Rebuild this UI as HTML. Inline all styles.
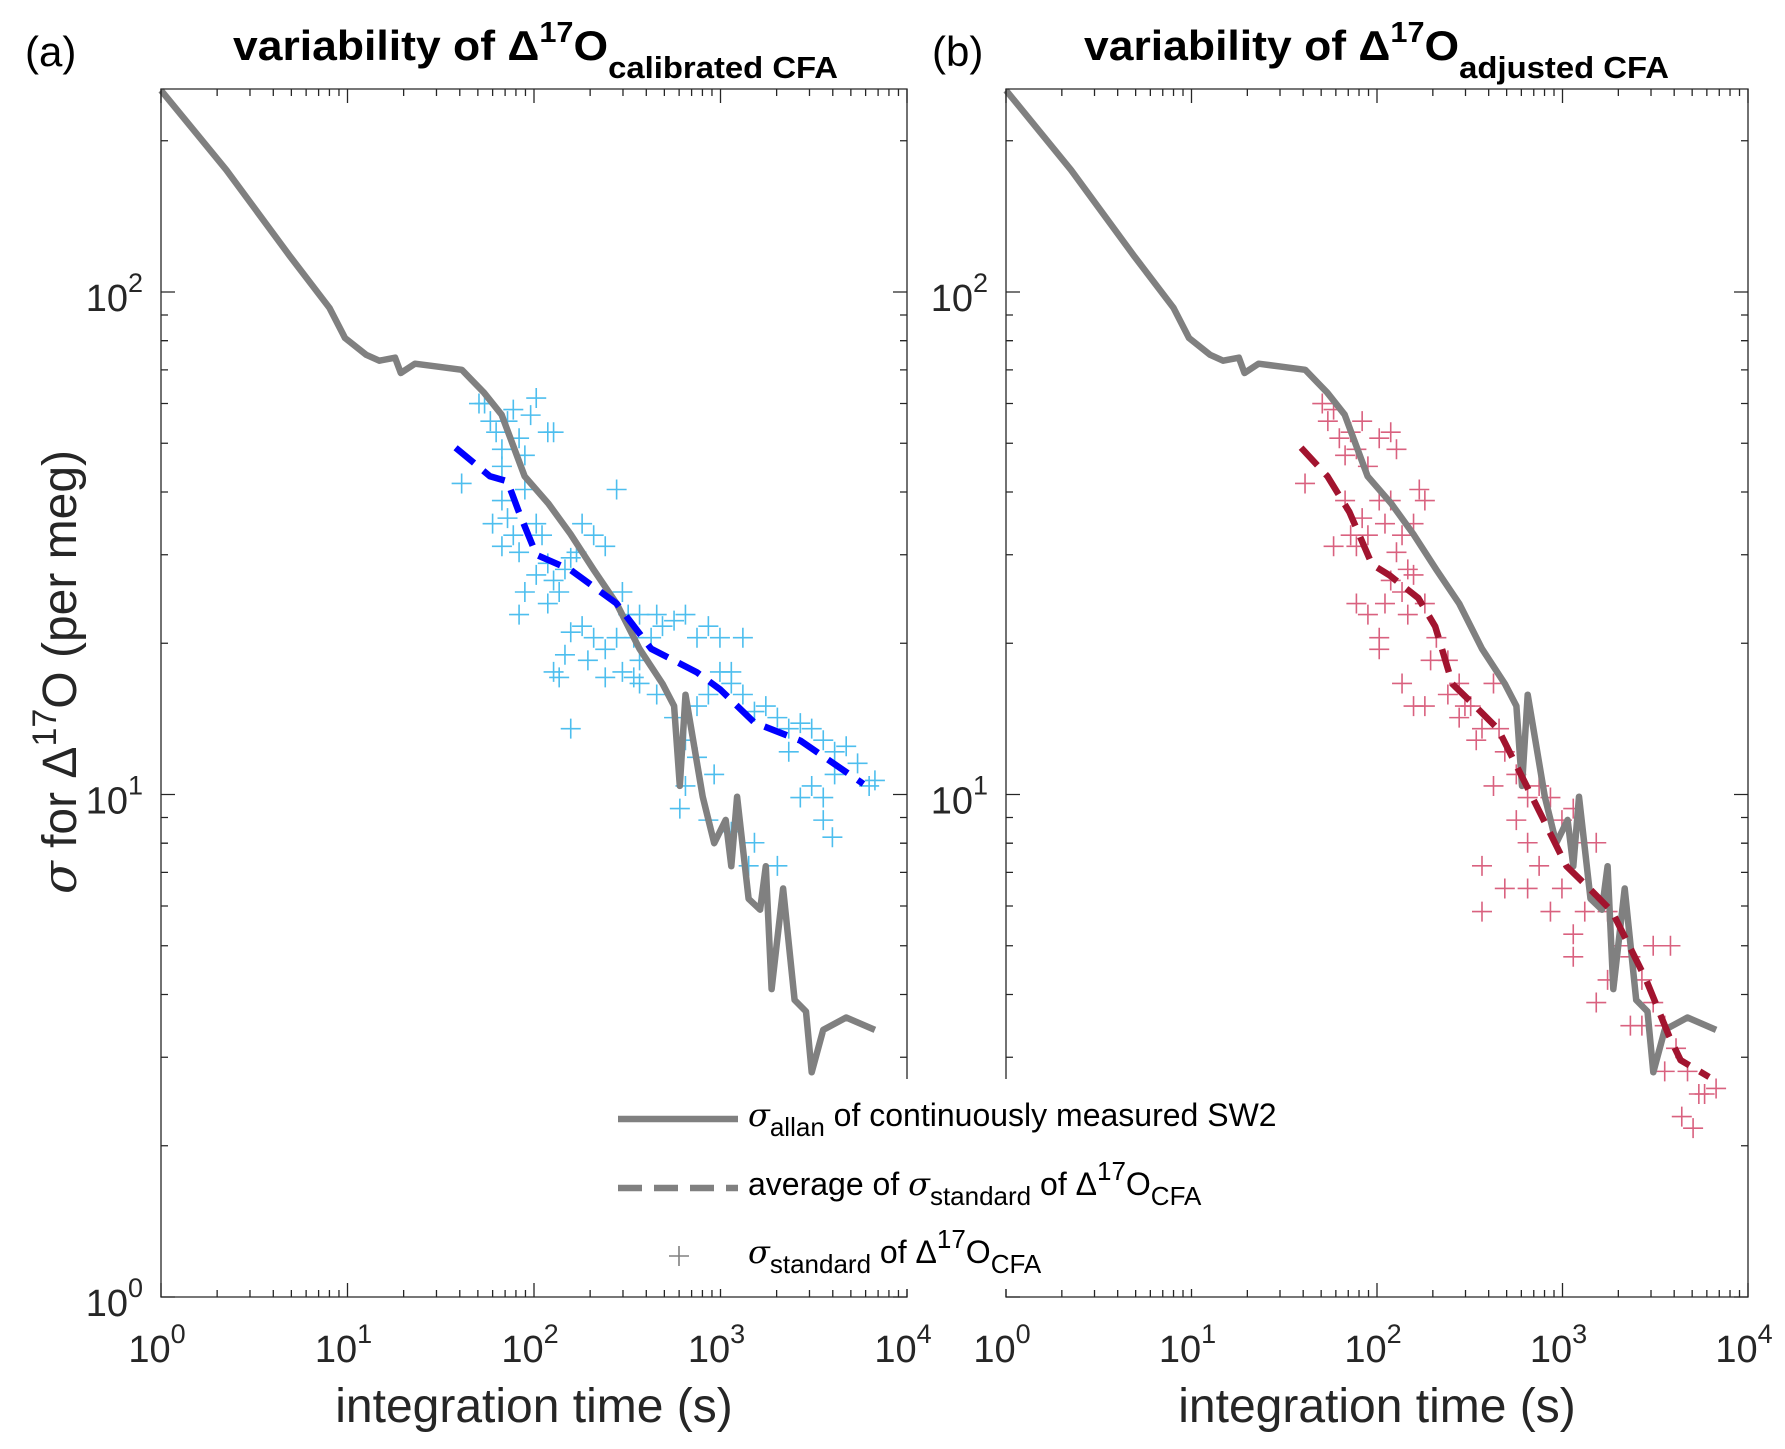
<!DOCTYPE html>
<html><head><meta charset="utf-8"><style>
body{margin:0;background:#fff}
svg{display:block;font-family:"Liberation Sans",sans-serif}
</style></head><body>
<svg id="fig" width="1785" height="1449" viewBox="0 0 1785 1449" xmlns="http://www.w3.org/2000/svg"></svg>
<script>
// ---- data ----
const allanTime=[1,2.24,4.9,8.0,9.7,12.6,14.8,18,19.3,23,31,41,54,67,89,119,157,209,277,368,489,564,605,649,803,925,1066,1143,1228,1415,1630,1750,1879,2165,2495,2872,3085,3555,4720,6730];
const allanSigma=[252,175,118,93,81,75,73,74,69,72,71,70,63,57,43,38,33,28,24,19.5,16.6,15,10.4,15.8,9.9,8.0,8.9,7.2,9.9,6.2,5.9,7.2,4.1,6.5,3.9,3.7,2.8,3.4,3.6,3.4];
const avgATime=[38,58,72,83,103,157,277,425,748,993,1520,2680,5840];
const avgASigma=[49,43,42,36.5,30,28,24,19.5,17.5,16.2,13.9,12.8,10.5];
const avgBTime=[39,54,71,94,117,167,206,255,338,449,596,791,1051,1396,1852,2290,2830,3760,4330,6170];
const avgBSigma=[49,43,36.5,28.7,27.3,24.6,21.6,16.6,15,13.5,10.97,8.9,7.2,6.5,5.85,5.0,4.27,3.3,2.96,2.74];
// scatter stored as log10(time), log10(sigma)
const scatALogT=[1.612,1.705,1.735,1.766,1.797,1.828,1.828,1.858,1.889,1.920,1.951,1.982,2.012,2.074,2.105,1.828,1.858,1.889,1.920,1.951,2.012,2.043,2.074,2.105,2.135,2.166,2.197,2.228,2.258,2.320,2.382,2.443,2.474,2.505,2.535,2.566,2.012,2.074,2.105,2.135,2.197,2.258,2.320,2.382,2.443,2.566,2.628,2.658,2.689,2.751,2.812,2.874,2.935,2.997,3.058,3.120,2.566,2.658,2.751,2.812,2.874,2.935,2.997,3.058,3.120,3.182,3.243,3.305,3.366,3.428,3.489,3.551,3.612,3.674,3.735,3.797,3.828,3.366,3.428,3.489,3.551,3.612,2.782,2.935,3.058,3.182,3.305,3.551,3.6,3.151,2.812,2.874,2.966,2.474,2.535,2.382,2.289,2.166,1.951,1.920,2.197,1.828,1.778];
const scatALogS=[1.619,1.778,1.778,1.743,1.721,1.687,1.653,1.743,1.766,1.709,1.675,1.755,1.789,1.721,1.721,1.585,1.550,1.516,1.482,1.607,1.539,1.516,1.460,1.426,1.403,1.448,1.471,1.482,1.539,1.516,1.494,1.607,1.403,1.358,1.312,1.358,1.437,1.380,1.244,1.233,1.131,1.335,1.312,1.289,1.312,1.267,1.312,1.358,1.335,1.346,1.358,1.312,1.335,1.312,1.244,1.312,1.221,1.199,1.153,1.108,1.176,1.199,1.244,1.221,1.199,1.165,1.176,1.153,1.131,1.142,1.131,1.108,1.085,1.096,1.062,1.017,1.028,1.085,0.994,1.017,0.994,1.040,0.972,0.949,0.926,0.904,0.858,0.949,0.915,0.858,1.017,1.074,1.040,1.244,1.233,1.233,1.267,1.278,1.403,1.358,1.323,1.494,1.539];
const scatBLogT=[1.612,1.705,1.735,1.766,1.797,1.828,1.858,1.889,1.920,1.951,2.012,2.074,2.105,1.828,1.858,1.889,1.920,1.951,2.012,2.043,2.074,2.105,2.135,2.166,2.197,2.228,2.258,1.766,1.889,1.951,2.012,2.043,2.074,2.135,2.166,2.197,2.258,2.289,2.320,2.382,2.443,2.474,2.505,2.566,2.012,2.197,2.135,2.258,2.382,2.443,2.535,2.628,2.658,2.689,2.751,2.812,2.874,2.935,2.997,3.058,3.120,3.182,2.628,2.751,2.812,2.566,2.689,2.566,2.812,2.874,2.935,2.997,3.058,3.120,3.243,3.305,3.366,3.428,3.489,3.551,3.612,3.674,3.735,3.428,3.551,3.643,3.704,3.766,3.828,3.058,3.182,3.243,3.366,3.489,3.582];
const scatBLogS=[1.619,1.778,1.743,1.766,1.709,1.675,1.721,1.687,1.743,1.653,1.709,1.721,1.687,1.585,1.516,1.494,1.550,1.516,1.585,1.539,1.585,1.482,1.516,1.448,1.539,1.607,1.585,1.494,1.380,1.358,1.312,1.380,1.426,1.403,1.358,1.437,1.380,1.267,1.312,1.267,1.221,1.176,1.176,1.131,1.289,1.176,1.221,1.176,1.199,1.153,1.108,1.221,1.131,1.085,1.040,0.994,1.017,0.994,0.949,0.972,0.904,0.904,1.017,0.949,0.904,0.858,0.813,0.767,0.813,0.858,0.767,0.813,0.722,0.767,0.767,0.699,0.677,0.631,0.586,0.540,0.495,0.449,0.404,0.540,0.449,0.359,0.336,0.404,0.415,0.677,0.586,0.631,0.540,0.699,0.699];
const xTickExp=[0,1,2,3,4];
const yTickExpA=[0,1,2];
const yTickExpB=[1,2];

// ---- layout ----
const NS="http://www.w3.org/2000/svg";
const svg=document.getElementById('fig');
const TOP=89,BOT=1297,YMAX=2.404;
function mk(tag,attrs,parent){const e=document.createElementNS(NS,tag);for(const k in attrs)e.setAttribute(k,attrs[k]);(parent||svg).appendChild(e);return e;}
function panel(x0,x1,id){
  const g=mk('g',{});
  
  
  const sx=l=>x0+(x1-x0)*l/4;
  const sy=l=>BOT-(BOT-TOP)*l/YMAX;
  return {g,sx,sy,x0,x1};
}
function frame(P,id,yTicks){
  const {g,sx,sy,x0,x1}=P;
  const fr=mk('g',{stroke:'#262626','stroke-width':1.3,fill:'none'},g);
  
  
  mk('path',{d:`M${x0},${TOP}H${x1}V${BOT}H${x0}Z`},fr);
  for(let d=0;d<4;d++)for(let m=1;m<10;m++){
    const x=sx(d+Math.log10(m));const L=m==1?14:7;
    mk('path',{d:`M${x},${BOT}v${-L}M${x},${TOP}v${L}`},fr);
  }
  mk('path',{d:`M${x1},${BOT}v-14M${x1},${TOP}v14`},fr);
  for(let d=0;d<3;d++)for(let m=1;m<10;m++){
    const l=d+Math.log10(m);if(l>YMAX)break;const y=sy(l);const L=m==1?14:7;
    mk('path',{d:`M${x0},${y}h${L}M${x1},${y}h${-L}`},fr);
  }
  xTickExp.forEach(e=>{
    const t=mk('text',{x:sx(e)-4,y:1362,'font-size':38,'text-anchor':'middle',fill:'#262626'},g);
    
    
    t.innerHTML=`10<tspan dy="-19" font-size="27">${e}</tspan>`;
  });
  yTicks.forEach(e=>{
    const t=mk('text',{x:x0-18,y:sy(e)+19,'font-size':38,'text-anchor':'end',fill:'#262626'},g);
    
    
    t.innerHTML=`10<tspan dy="-19" font-size="27">${e}</tspan>`;
  });
  const xl=mk('text',{x:(x0+x1)/2,y:1422,'font-size':48,'text-anchor':'middle',fill:'#262626'},g);
  
  
  xl.textContent='integration time (s)';
}
function line(P,T,S,attrs,name){
  const d=T.map((t,i)=>(i?'L':'M')+P.sx(Math.log10(t)).toFixed(1)+','+P.sy(Math.log10(S[i])).toFixed(1)).join('');
  const p=mk('path',Object.assign({d,fill:'none','stroke-linejoin':'round'},attrs),P.g);
  
  
}
function scatter(P,LT,LS,color,name){
  const g=mk('g',{stroke:color,'stroke-width':1.6},P.g);
  
  
  LT.forEach((lt,i)=>{const x=P.sx(lt),y=P.sy(LS[i]);
    mk('path',{d:`M${x-10},${y}h20M${x},${y-10}v20`},g);});
}
const A=panel(161,907,'panel-a'),B=panel(1006,1748,'panel-b');
scatter(A,scatALogT,scatALogS,'#4DBEEE','scatter-a');
line(A,allanTime,allanSigma,{stroke:'#808080','stroke-width':6.5},'allan-line-a');
line(A,avgATime,avgASigma,{stroke:'#0000FF','stroke-width':6.5,'stroke-dasharray':'24 12'},'average-line-a');
scatter(B,scatBLogT,scatBLogS,'#D9617F','scatter-b');
line(B,allanTime,allanSigma,{stroke:'#808080','stroke-width':6.5},'allan-line-b');
line(B,avgBTime,avgBSigma,{stroke:'#A2142F','stroke-width':6.5,'stroke-dasharray':'24 12'},'average-line-b');
frame(A,'panel-a',yTickExpA);frame(B,'panel-b',yTickExpB);
</script>
<svg style="position:absolute;left:0;top:0" width="1785" height="1449" xmlns="http://www.w3.org/2000/svg" font-family="Liberation Sans, sans-serif" fill="#000">
<rect x="597" y="1079" width="735" height="210" fill="#fff"/>
<g font-size="32">
 <line x1="618" y1="1119" x2="738" y2="1119" stroke="#808080" stroke-width="6.5"/>
 <text x="748" y="1126"><tspan font-family="DejaVu Serif, serif" font-style="italic">σ</tspan><tspan dy="10" font-size="26">allan</tspan><tspan dy="-10"> of continuously measured SW2</tspan></text>
 <line x1="618" y1="1188" x2="738" y2="1188" stroke="#808080" stroke-width="6.5" stroke-dasharray="24 12"/>
 <text x="748" y="1195">average of <tspan font-family="DejaVu Serif, serif" font-style="italic">σ</tspan><tspan dy="10" font-size="26">standard</tspan><tspan dy="-10"> of  Δ</tspan><tspan dy="-15" font-size="26">17</tspan><tspan dy="15">O</tspan><tspan dy="10" font-size="26">CFA</tspan></text>
 <path d="M669,1256h20M679,1246v20" stroke="#808080" stroke-width="1.6"/>
 <text x="748" y="1263"><tspan font-family="DejaVu Serif, serif" font-style="italic">σ</tspan><tspan dy="10" font-size="26">standard</tspan><tspan dy="-10"> of Δ</tspan><tspan dy="-15" font-size="26">17</tspan><tspan dy="15">O</tspan><tspan dy="10" font-size="26">CFA</tspan></text>
</g>
<text x="25" y="66" font-size="42">(a)</text>
<text x="233" y="60" font-size="42" font-weight="bold" textLength="605" lengthAdjust="spacingAndGlyphs">variability of Δ<tspan dy="-18" font-size="29">17</tspan><tspan dy="18">O</tspan><tspan dy="18" font-size="31">calibrated CFA</tspan></text>
<text x="932" y="66" font-size="42">(b)</text>
<text x="1084" y="60" font-size="42" font-weight="bold" textLength="585" lengthAdjust="spacingAndGlyphs">variability of Δ<tspan dy="-18" font-size="29">17</tspan><tspan dy="18">O</tspan><tspan dy="18" font-size="31">adjusted CFA</tspan></text>
<text transform="translate(76,672) rotate(-90)" font-size="48" text-anchor="middle" fill="#262626"><tspan font-family="DejaVu Serif, serif" font-style="italic">σ</tspan> for Δ<tspan dy="-20" font-size="34">17</tspan><tspan dy="20">O (per meg)</tspan></text>
</svg>
</body></html>
